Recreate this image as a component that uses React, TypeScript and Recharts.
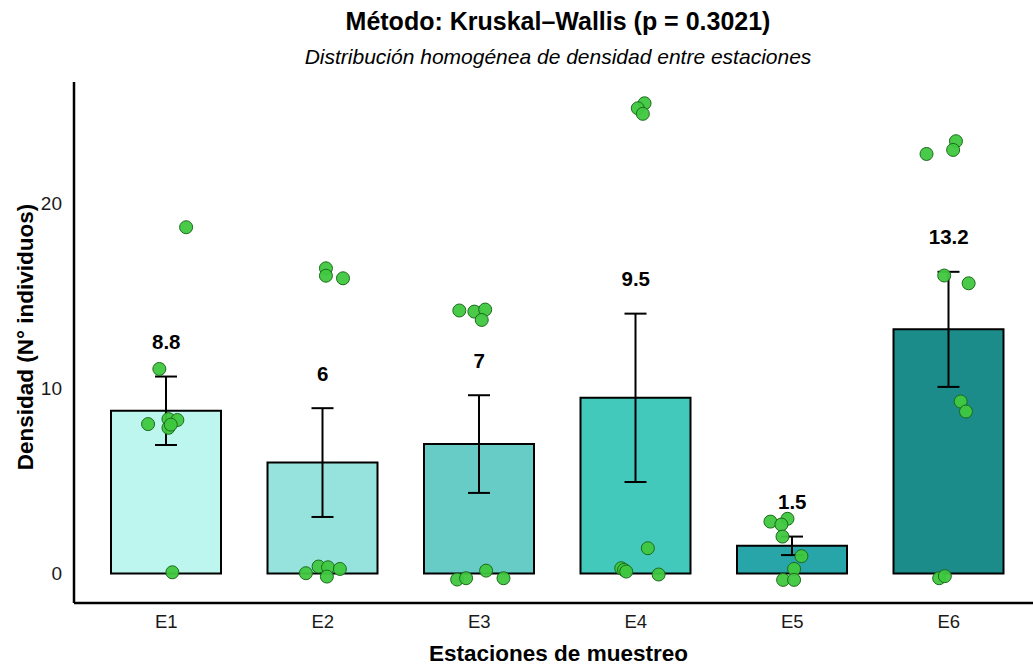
import {
  ComposedChart,
  Bar,
  Line,
  Scatter,
  XAxis,
  YAxis,
  ErrorBar,
  LabelList,
  Cell,
  Label,
} from "recharts";

// Estaciones y resumen (media ± error estándar)
const stations = ["E1", "E2", "E3", "E4", "E5", "E6"];
const means = [8.8, 6.0, 7.0, 9.5, 1.5, 13.2];
const errors = [1.85, 2.94, 2.64, 4.55, 0.5, 3.11];
const barColors = ["#BDF6EF", "#96E3DD", "#68CCC6", "#43C9BC", "#27A5A9", "#1B8C8A"];

// Observaciones individuales (valor y desplazamiento horizontal del jitter)
const obsE1 = [18.72, 11.06, 8.08, 8.35, 8.3, 7.88, 8.05, 0.07];
const jitE1 = [0.128, -0.043, -0.115, 0.015, 0.072, 0.015, 0.03, 0.04];
const obsE2 = [16.5, 16.1, 15.96, 0.02, 0.38, 0.34, 0.25, -0.16];
const jitE2 = [0.021, 0.021, 0.13, -0.107, -0.026, 0.034, 0.11, 0.027];
const obsE3 = [14.22, 14.16, 14.27, 13.71, -0.32, -0.25, 0.16, -0.25];
const jitE3 = [-0.127, -0.031, 0.038, 0.016, -0.141, -0.084, 0.044, 0.155];
const obsE4 = [25.42, 25.15, 24.85, 1.37, 0.29, 0.2, 0.11, -0.05];
const jitE4 = [0.056, 0.013, 0.045, 0.077, -0.093, -0.075, -0.061, 0.146];
const obsE5 = [2.81, 2.96, 2.65, 2.0, 0.94, 0.25, -0.34, -0.34];
const jitE5 = [-0.14, -0.031, -0.07, -0.063, 0.058, 0.011, -0.059, 0.011];
const obsE6 = [22.68, 23.37, 22.9, 16.11, 15.69, 9.3, 8.76, -0.25, -0.14];
const jitE6 = [-0.143, 0.045, 0.027, -0.03, 0.126, 0.075, 0.109, -0.062, -0.026];

const yTicks = [0, 10, 20];

const observations = [obsE1, obsE2, obsE3, obsE4, obsE5, obsE6];
const jitters = [jitE1, jitE2, jitE3, jitE4, jitE5, jitE6];

const barData = stations.map((s, i) => ({
  station: s,
  mean: means[i],
  se: errors[i],
  labelY: means[i] + errors[i] + 1.9,
  label: String(means[i]),
}));

const pointData = observations.flatMap((vals, i) =>
  vals.map((v, j) => ({ x: i + 1 + jitters[i][j], y: v }))
);

const FONT = "'Liberation Sans', Arial, sans-serif";

const renderPoint = (props: any) => {
  const { cx, cy } = props;
  return <circle cx={cx} cy={cy} r={6.5} fill="#3FC83F" fillOpacity={0.95} stroke="#1C6A1C" strokeWidth={1} />;
};

const renderValueLabel = (props: any) => {
  const { x, y, value } = props;
  return (
    <text
      x={x}
      y={y}
      textAnchor="middle"
      dominantBaseline="central"
      fontFamily={FONT}
      fontWeight="bold"
      fontSize={20.5}
      fill="#000"
    >
      {value}
    </text>
  );
};

const renderXTitle = (props: any) => {
  const { viewBox } = props;
  return (
    <text
      x={viewBox.x + viewBox.width / 2 + 5}
      y={viewBox.y + 50}
      textAnchor="middle"
      dominantBaseline="central"
      fontFamily={FONT}
      fontWeight="bold"
      fontSize={22.5}
      fill="#000"
    >
      Estaciones de muestreo
    </text>
  );
};

const renderYTitle = () => {
  return (
    <text
      x={25}
      y={337}
      transform="rotate(-90 25 337)"
      textAnchor="middle"
      dominantBaseline="central"
      fontFamily={FONT}
      fontWeight="bold"
      fontSize={22.5}
      fill="#000"
    >
      Densidad (N° individuos)
    </text>
  );
};

export default function App() {
  return (
    <div style={{ position: "absolute", left: 0, top: 0, width: 1033, height: 666, background: "#fff", fontFamily: FONT }}>
      <div
        style={{
          position: "absolute",
          left: 558,
          top: 7,
          transform: "translateX(-50%)",
          whiteSpace: "nowrap",
          fontSize: 25,
          lineHeight: "29px",
          fontWeight: "bold",
          color: "#000",
        }}
      >
        Método: Kruskal–Wallis (p = 0.3021)
      </div>
      <div
        style={{
          position: "absolute",
          left: 558,
          top: 44,
          transform: "translateX(-50%)",
          whiteSpace: "nowrap",
          fontSize: 21,
          lineHeight: "25px",
          fontStyle: "italic",
          color: "#000",
        }}
      >
        Distribución homogénea de densidad entre estaciones
      </div>
      <div style={{ position: "absolute", left: 0, top: 0 }}>
        <ComposedChart
          width={1033}
          height={666}
          data={barData}
          margin={{ top: 82, right: 0, bottom: 3, left: 0 }}
        >
          <XAxis
            dataKey="station"
            type="category"
            padding={{ left: 14, right: 6 }}
            height={60}
            tickLine={false}
            tickSize={6}
            tickMargin={6}
            axisLine={{ stroke: "#000", strokeWidth: 2.5 }}
            tick={{ fill: "#1a1a1a", fontSize: 18.5, fontFamily: FONT }}
          >
            <Label content={renderXTitle} />
          </XAxis>
          <XAxis
            xAxisId="num"
            type="number"
            dataKey="x"
            domain={[0.4118, 6.5371]}
            allowDataOverflow
            hide
          />
          <YAxis
            type="number"
            domain={[-1.59, 26.57]}
            ticks={yTicks}
            allowDataOverflow
            width={74}
            tickLine={false}
            tickSize={6}
            tickMargin={6}
            axisLine={{ stroke: "#000", strokeWidth: 2.5 }}
            tick={{ fill: "#1a1a1a", fontSize: 19, fontFamily: FONT }}
          >
            <Label content={renderYTitle} />
          </YAxis>
          <Bar dataKey="mean" barSize={110} stroke="#000" strokeWidth={2} isAnimationActive={false}>
            {barData.map((d, i) => (
              <Cell key={d.station} fill={barColors[i]} />
            ))}
            <ErrorBar dataKey="se" width={11} stroke="#000" strokeWidth={2} direction="y" />
          </Bar>
          <Scatter
            xAxisId="num"
            data={pointData}
            dataKey="y"
            shape={renderPoint}
            isAnimationActive={false}
          />
          <Line
            dataKey="labelY"
            stroke="none"
            dot={false}
            activeDot={false}
            isAnimationActive={false}
          >
            <LabelList dataKey="label" content={renderValueLabel} />
          </Line>
        </ComposedChart>
      </div>
    </div>
  );
}
